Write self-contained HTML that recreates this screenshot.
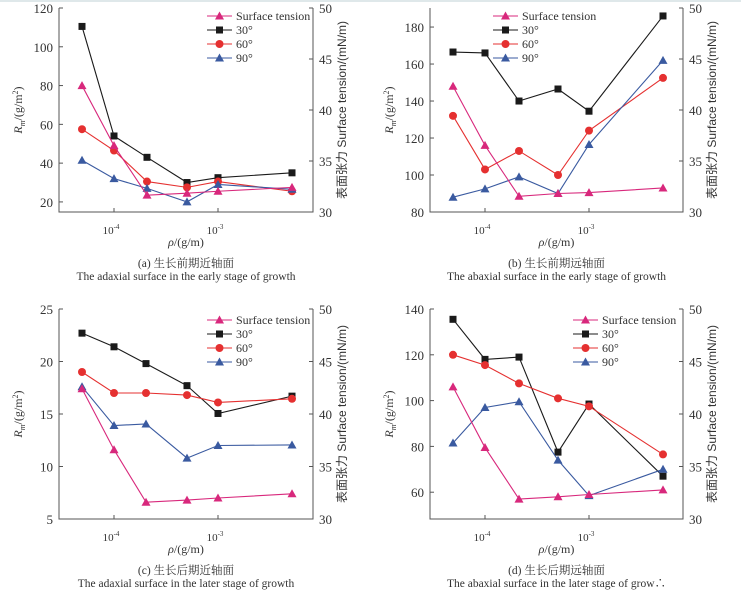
<!DOCTYPE html>
<html><head><meta charset="utf-8"><style>
html,body{margin:0;padding:0;background:#fff;}
svg{display:block;}
text{font-family:"Liberation Serif","Noto Serif CJK SC",serif;}
text.sa{font-family:"Liberation Sans","Noto Sans CJK SC",sans-serif;}
</style></head><body>
<svg id="s" width="741" height="596" viewBox="0 0 741 596" xmlns="http://www.w3.org/2000/svg">
<rect width="741" height="596" fill="#fff"/>
<rect width="741" height="2" fill="#dfe8ea"/>
</svg>
<script>
var S=document.getElementById('s'),h='';
var P=[
{ox:0,oy:0,x0:59,x1:313,yt:8,yb:212,vt:120,vb:14.8,ticks:[20,40,60,80,100,120],
 xs:[82,114,147,187,218,292],
 a:[110.5,54,43,30,32.5,35],b:[57.5,46.5,30.5,27.5,30.5,25.5],c:[41.5,32,27,20,29,26.5],st:[80,49,23.5,24.5,25.5,27.5],
 leg:[207,16],lab:'(a) 生长前期近轴面',en:'The adaxial surface in the early stage of growth'},
{ox:370,oy:0,x0:60,x1:313,yt:8,yb:212,vt:190.3,vb:80,ticks:[80,100,120,140,160,180],
 xs:[83,115,149,188,219,293],
 a:[166.5,166,140,146.5,134.5,186],b:[132,103,113,100,124,152.5],c:[88,92.5,99,90,116.5,162],st:[148,116,88.5,90,90.5,93],
 leg:[123,16],lab:'(b) 生长前期远轴面',en:'The abaxial surface in the early stage of growth'},
{ox:0,oy:300,x0:59,x1:313,yt:9,yb:219,vt:25,vb:5,ticks:[5,10,15,20,25],
 xs:[82,114,146,187,218,292],
 a:[22.7,21.4,19.8,17.7,15.05,16.7],b:[19,17,17,16.8,16.1,16.45],c:[17.6,13.9,14.05,10.8,12,12.05],st:[17.4,11.6,6.6,6.8,7,7.4],
 leg:[207,20],lab:'(c) 生长后期近轴面',en:'The adaxial surface in the later stage of growth'},
{ox:370,oy:300,x0:60,x1:313,yt:9,yb:219,vt:140,vb:48.3,ticks:[60,80,100,120,140],
 xs:[83,115,149,188,219,293],
 a:[135.5,118,119,77.5,98.5,67],b:[120,115.5,107.5,101,97.5,76.5],c:[81.5,97,99.5,74,58.5,70],st:[106,79.5,57,58,59,61],
 leg:[203,20],lab:'(d) 生长后期远轴面',en:'The abaxial surface in the later stage of grow\u2234'}
];
function mk(t,x,y,c){if(t=='s')return '<rect x="'+(x-3.5)+'" y="'+(y-3.5)+'" width="7" height="7" fill="'+c+'"/>';
 if(t=='c')return '<circle cx="'+x+'" cy="'+y+'" r="4" fill="'+c+'"/>';
 return '<polygon points="'+x+','+(y-4.5)+' '+(x+4.5)+','+(y+3.5)+' '+(x-4.5)+','+(y+3.5)+'" fill="'+c+'"/>';}
P.forEach(function(p){
 var g='<g transform="translate('+p.ox+','+p.oy+')">';
 var Y=function(v){return p.yt+(p.vt-v)/(p.vt-p.vb)*(p.yb-p.yt);};
 g+='<path d="M'+p.x0+' '+p.yt+'V'+p.yb+'H'+p.x1+'V'+p.yt+'" fill="none" stroke="#555" stroke-width="1"/>';
 p.ticks.forEach(function(t){var y=Y(t);g+='<line x1="'+p.x0+'" x2="'+(p.x0+4)+'" y1="'+y+'" y2="'+y+'" stroke="#555"/>';
  g+='<text x="'+(p.x0-6)+'" y="'+(y+5)+'" font-size="13" text-anchor="end" fill="#333">'+t+'</text>';});
 for(var i=0;i<5;i++){var r=30+5*i,y=p.yb-(p.yb-p.yt)*i/4;
  g+='<line x1="'+(p.x1-4)+'" x2="'+p.x1+'" y1="'+y+'" y2="'+y+'" stroke="#555"/>';
  g+='<text x="'+(p.x1+6)+'" y="'+(y+5)+'" font-size="13" fill="#333">'+r+'</text>';}
 [[p.xs[1],'10'],[p.xs[4],'10']].forEach(function(q,k){
  g+='<line x1="'+q[0]+'" x2="'+q[0]+'" y1="'+p.yb+'" y2="'+(p.yb-4)+'" stroke="#555"/>';
  g+='<text x="'+(q[0]-3)+'" y="'+(p.yb+22)+'" font-size="11" text-anchor="middle" fill="#333">10<tspan dy="-5" font-size="7">'+(k?'-3':'-4')+'</tspan></text>';});
 var my=(p.yt+p.yb)/2;
 g+='<text transform="translate('+(p.x0-37)+','+my+') rotate(-90)" font-size="12" text-anchor="middle" fill="#333"><tspan font-style="italic">R</tspan><tspan font-size="8" dy="3" font-style="italic">m</tspan><tspan dy="-3">/(g/m</tspan><tspan font-size="8" dy="-4">2</tspan><tspan dy="4">)</tspan></text>';
 g+='<text class="sa" transform="translate('+(p.x1+33)+','+my+') rotate(-90)" font-size="12" text-anchor="middle" fill="#333">表面张力 Surface tension/(mN/m)</text>';
 var cx=(p.x0+p.x1)/2;
 g+='<text x="'+cx+'" y="'+(p.yb+34)+'" font-size="12" text-anchor="middle" fill="#333"><tspan font-style="italic">ρ</tspan>/(g/m)</text>';
 g+='<text x="'+cx+'" y="'+(p.yb+55)+'" font-size="11.5" text-anchor="middle" fill="#333">'+p.lab+'</text>';
 g+='<text x="'+cx+'" y="'+(p.yb+68)+'" font-size="11.5" text-anchor="middle" fill="#333">'+p.en+'</text>';
 var ser=[[p.a,'#1a1a1a','s'],[p.b,'#e53030','c'],[p.c,'#3a5aa0','t'],[p.st,'#d8287c','t']];
 ser.forEach(function(s){var d='';s[0].forEach(function(v,i){d+=(i?'L':'M')+p.xs[i]+' '+Y(v);});
  g+='<path d="'+d+'" fill="none" stroke="'+s[1]+'" stroke-width="1.1"/>';
  s[0].forEach(function(v,i){g+=mk(s[2],p.xs[i],Y(v),s[1]);});});
 var L=[['Surface tension','#d8287c','t'],['30°','#1a1a1a','s'],['60°','#e53030','c'],['90°','#3a5aa0','t']];
 L.forEach(function(l,i){var y=p.leg[1]+i*14,x=p.leg[0];
  g+='<line x1="'+x+'" x2="'+(x+25)+'" y1="'+y+'" y2="'+y+'" stroke="'+l[1]+'" stroke-width="1.1"/>'+mk(l[2],x+12.5,y,l[1]);
  g+='<text x="'+(x+29)+'" y="'+(y+4)+'" font-size="12" fill="#333">'+l[0]+'</text>';});
 h+=g+'</g>';
});
S.insertAdjacentHTML('beforeend',h);
</script>
</body></html>
